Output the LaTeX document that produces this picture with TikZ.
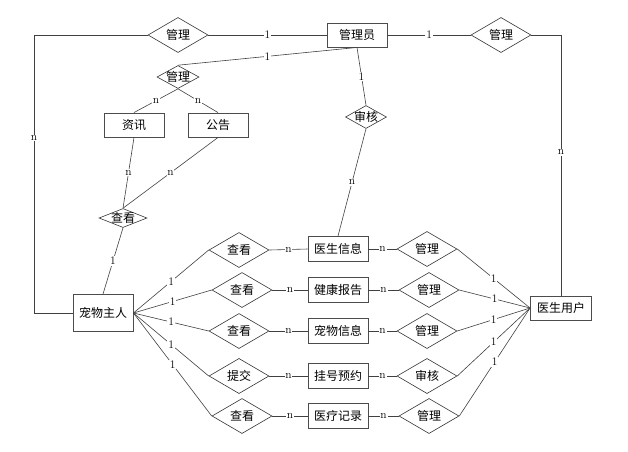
\documentclass[tikz,border=0pt]{standalone}
\usepackage{fontspec}
\newfontfamily\cjk{Noto Sans CJK SC}
\usetikzlibrary{shapes.geometric}

\begin{document}
\begin{tikzpicture}[x=1pt, y=-1pt,
    entity/.style={rectangle, draw=black!70, line width=0.9pt, minimum width=60pt, minimum height=24pt, inner sep=0pt},
    rel/.style={diamond, draw=black!80, line width=0.6pt, minimum width=60pt, minimum height=34pt, inner sep=0pt},
    smallrel/.style={diamond, draw=black!80, line width=0.6pt, inner sep=0pt},
    card/.style={fill=white, inner sep=0.8pt, font=\rmfamily\fontsize{11.5}{12}\selectfont},
    link/.style={draw=black!75, line width=0.6pt},
    font=\cjk\fontsize{12}{14}\selectfont
 ]
\useasboundingbox (0,0) rectangle (628,451);

% top row
\node[entity] (Admin) at (357,35) {管理员};
\node[rel] (ManageOwner) at (178,35) {管理};
\node[rel] (ManageDoctor) at (501,35) {管理};
\draw[link] (ManageOwner.east) -- node[card] {1} (Admin.west);
\draw[link] (Admin.east) -- node[card] {1} (ManageDoctor.west);

% news and notices
\node[smallrel, minimum width=42pt, minimum height=23pt, label=center:管理] (ManageNotice) at (178,77) {};
\node[entity] (News) at (134,125) {资讯};
\node[entity] (Notice) at (218,125) {公告};
\node[smallrel, minimum width=48pt, minimum height=19pt, label=center:查看] (ViewNews) at (123,218) {};
\draw[link] (Admin.south) -- node[card] {1} (ManageNotice.north);
\draw[link] (ManageNotice.south) -- node[card] {n} (News.north);
\draw[link] (ManageNotice.south) -- node[card] {n} (Notice.north);
\draw[link] (News.south) -- node[card] {n} (ViewNews.north);
\draw[link] (Notice.south) -- node[card] {n} (ViewNews.north);

\node[smallrel, minimum width=41pt, minimum height=23pt, label=center:审核] (AuditDoc) at (366,117) {};
\draw[link] (Admin.south) -- node[card] {1} (AuditDoc.north);

% users
\node[entity, minimum height=37pt] (Owner) at (103,313) {宠物主人};
\node[entity, minimum width=61pt] (Doctor) at (561,308) {医生用户};
\draw[link] (ViewNews.south) -- node[card] {1} (Owner.north);

\coordinate (OwnerCorner) at (34,35);
\coordinate (DoctorCorner) at (561,35);
\draw[link] (ManageOwner.west) -- (OwnerCorner) -- node[card, pos=0.37] {n} (OwnerCorner |- Owner.west) -- (Owner.west);
\draw[link] (ManageDoctor.east) -- (DoctorCorner) -- node[card, pos=0.45] {n} (Doctor.north);

% middle rows
\node[entity, minimum height=25pt] (DocInfo) at (338,249) {医生信息};
\node[entity, minimum height=25pt] (Health) at (338,290) {健康报告};
\node[entity, minimum height=25pt] (PetInfo) at (338,331) {宠物信息};
\node[entity, minimum height=25pt] (Booking) at (338,376) {挂号预约};
\node[entity, minimum height=25pt] (Record) at (338,416) {医疗记录};
\draw[link] (AuditDoc.south) -- node[card] {n} (DocInfo.north);

\node[rel] (ViewDoc) at (239,250) {查看};
\node[rel] (ViewHealth) at (242,290) {查看};
\node[rel] (ViewPet) at (239,331) {查看};
\node[rel] (Submit) at (239,376) {提交};
\node[rel] (ViewRecord) at (242,416) {查看};

\node[rel] (ManageDocInfo) at (427,249) {管理};
\node[rel] (ManageHealth) at (429,290) {管理};
\node[rel] (ManagePet) at (427,331) {管理};
\node[rel] (AuditBooking) at (427,376) {审核};
\node[rel] (ManageRecord) at (429,416) {管理};

\draw[link] (Owner.east) -- node[card] {1} (ViewDoc.west);
\draw[link] (Owner.east) -- node[card] {1} (ViewHealth.west);
\draw[link] (Owner.east) -- node[card] {1} (ViewPet.west);
\draw[link] (Owner.east) -- node[card] {1} (Submit.west);
\draw[link] (Owner.east) -- node[card] {1} (ViewRecord.west);

\draw[link] (ViewDoc.east) -- node[card] {n} (DocInfo.west);
\draw[link] (ViewHealth.east) -- node[card] {n} (Health.west);
\draw[link] (ViewPet.east) -- node[card] {n} (PetInfo.west);
\draw[link] (Submit.east) -- node[card] {n} (Booking.west);
\draw[link] (ViewRecord.east) -- node[card] {n} (Record.west);

\draw[link] (DocInfo.east) -- node[card] {n} (ManageDocInfo.west);
\draw[link] (Health.east) -- node[card] {n} (ManageHealth.west);
\draw[link] (PetInfo.east) -- node[card] {n} (ManagePet.west);
\draw[link] (Booking.east) -- node[card] {n} (AuditBooking.west);
\draw[link] (Record.east) -- node[card] {n} (ManageRecord.west);

\draw[link] (ManageDocInfo.east) -- node[card] {1} (Doctor.west);
\draw[link] (ManageHealth.east) -- node[card] {1} (Doctor.west);
\draw[link] (ManagePet.east) -- node[card] {1} (Doctor.west);
\draw[link] (AuditBooking.east) -- node[card] {1} (Doctor.west);
\draw[link] (ManageRecord.east) -- node[card] {1} (Doctor.west);

\end{tikzpicture}
\end{document}
